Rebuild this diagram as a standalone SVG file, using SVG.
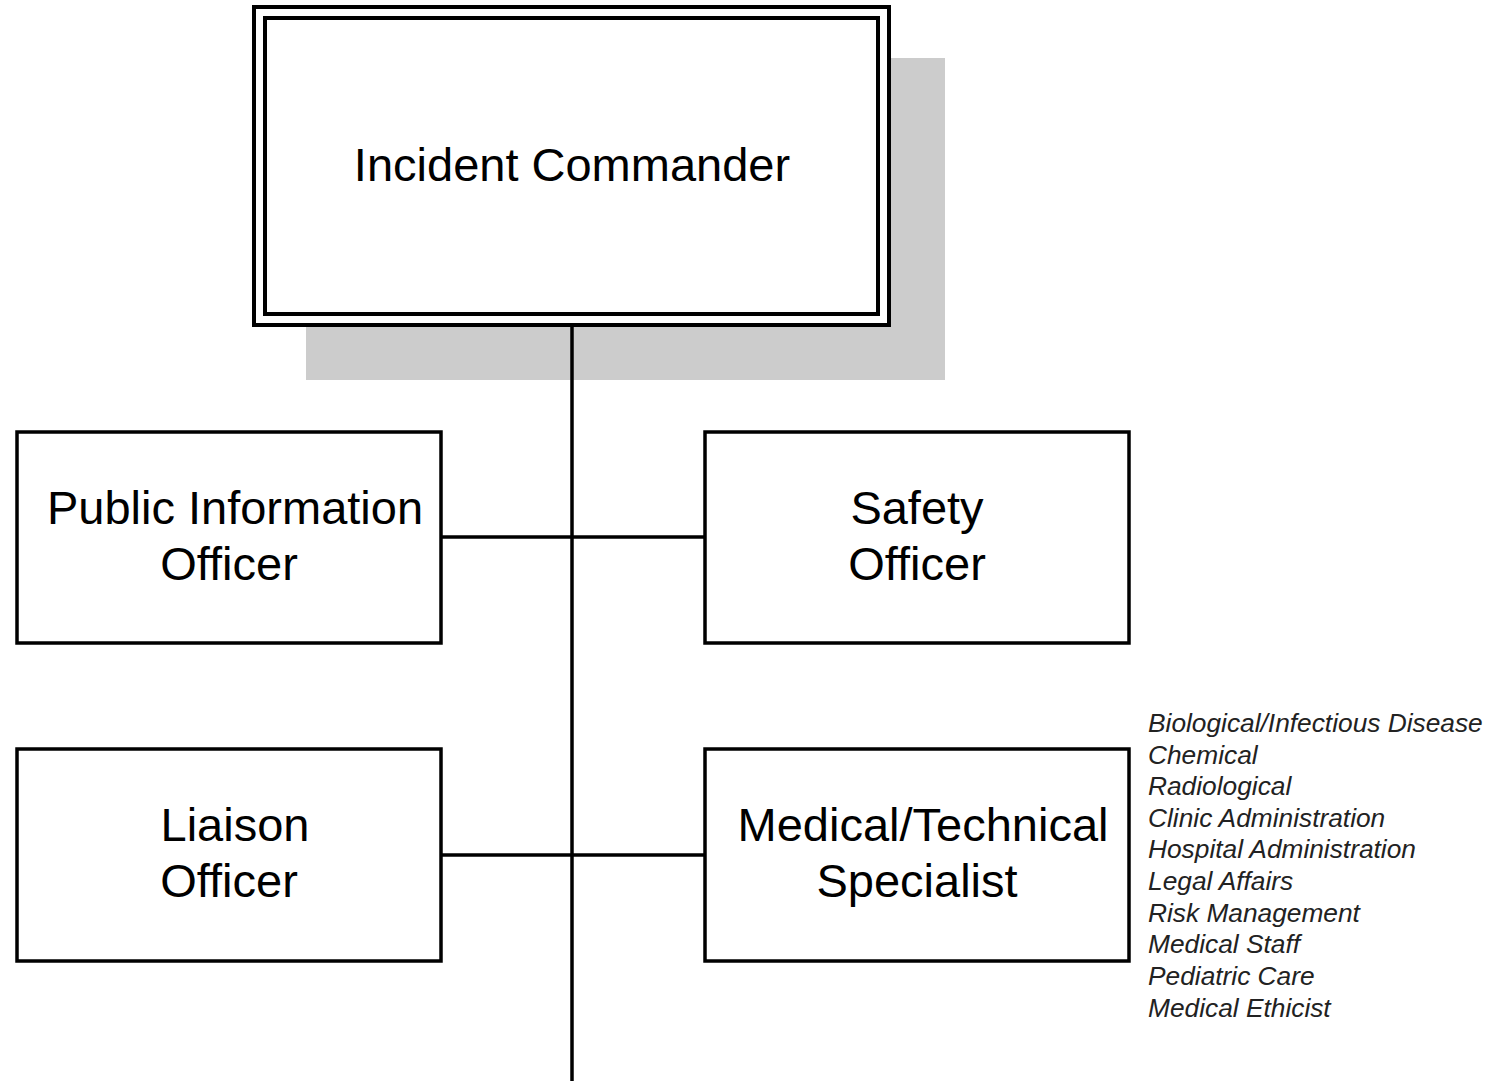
<svg xmlns="http://www.w3.org/2000/svg" width="1497" height="1081" viewBox="0 0 1497 1081">
  <style>
    .box { fill: #ffffff; stroke: #000000; stroke-width: 3.5; }
    .label { font-family: "Liberation Sans", Arial, sans-serif; font-size: 47px; fill: #000000; text-anchor: middle; }
    .item { font-family: "Liberation Sans", Arial, sans-serif; font-size: 26.3px; font-style: italic; fill: #222222; }
    .wire { stroke: #000000; stroke-width: 3.5; fill: none; }
  </style>
  <rect width="1497" height="1081" fill="#ffffff"/>

  <!-- reporting lines -->
  <g id="connectors">
    <line class="wire" x1="572" y1="325" x2="572" y2="1081"/>
    <line class="wire" x1="441" y1="537" x2="705" y2="537"/>
    <line class="wire" x1="441" y1="855" x2="705" y2="855"/>
  </g>

  <!-- command box with drop shadow and double border -->
  <g id="incident-commander">
    <rect x="306" y="58" width="639" height="322" fill="#cccccc"/>
    <line class="wire" x1="572" y1="325" x2="572" y2="380"/>
    <rect x="254" y="7" width="635" height="318" fill="#ffffff" stroke="#000000" stroke-width="4"/>
    <rect x="265" y="18" width="613" height="296" fill="none" stroke="#000000" stroke-width="4"/>
    <text class="label" x="572" y="181">Incident Commander</text>
  </g>

  <g id="public-information-officer">
    <rect class="box" x="17" y="432" width="424" height="211"/>
    <text class="label" x="235" y="524">Public Information</text>
    <text class="label" x="229" y="580">Officer</text>
  </g>

  <g id="safety-officer">
    <rect class="box" x="705" y="432" width="424" height="211"/>
    <text class="label" x="917" y="524">Safety</text>
    <text class="label" x="917" y="580">Officer</text>
  </g>

  <g id="liaison-officer">
    <rect class="box" x="17" y="749" width="424" height="212"/>
    <text class="label" x="235" y="841">Liaison</text>
    <text class="label" x="229" y="897">Officer</text>
  </g>

  <g id="medical-technical-specialist">
    <rect class="box" x="705" y="749" width="424" height="212"/>
    <text class="label" x="923" y="841">Medical/Technical</text>
    <text class="label" x="917" y="897">Specialist</text>
  </g>

  <!-- specialist areas -->
  <g id="specialist-areas">
    <text class="item" x="1148" y="732">Biological/Infectious Disease</text>
    <text class="item" x="1148" y="764">Chemical</text>
    <text class="item" x="1148" y="795">Radiological</text>
    <text class="item" x="1148" y="827">Clinic Administration</text>
    <text class="item" x="1148" y="858">Hospital Administration</text>
    <text class="item" x="1148" y="890">Legal Affairs</text>
    <text class="item" x="1148" y="922">Risk Management</text>
    <text class="item" x="1148" y="953">Medical Staff</text>
    <text class="item" x="1148" y="985">Pediatric Care</text>
    <text class="item" x="1148" y="1017">Medical Ethicist</text>
  </g>
</svg>
